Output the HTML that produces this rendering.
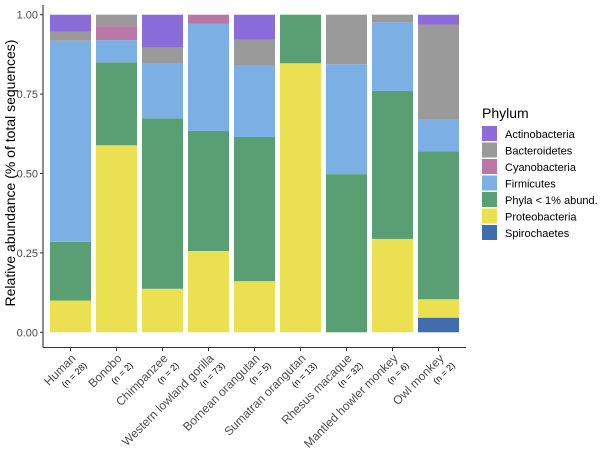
<!DOCTYPE html>
<html><head><meta charset="utf-8">
<style>
html,body{margin:0;padding:0;background:#fff;}
svg text{font-family:"Liberation Sans",Arial,sans-serif;}
</style></head>
<body>
<svg id="chart" width="600" height="450" viewBox="0 0 600 450" xmlns="http://www.w3.org/2000/svg">
<g id="bars"></g>
<g id="axes"></g>
<g id="legend"></g>
</svg>
<script>
const categories = ["Human","Bonobo","Chimpanzee","Western lowland gorilla","Bornean orangutan","Sumatran orangutan","Rhesus macaque","Mantled howler monkey","Owl monkey"];
const sampleSizes = ["(n = 28)","(n = 2)","(n = 2)","(n = 73)","(n = 5)","(n = 13)","(n = 32)","(n = 6)","(n = 2)"];
const phyla = ["Spirochaetes","Proteobacteria","Phyla < 1% abund.","Firmicutes","Cyanobacteria","Bacteroidetes","Actinobacteria"];
const spirochaetes   = [0,0,0,0,0,0,0,0,0.046];
const proteobacteria = [0.10,0.589,0.137,0.256,0.161,0.847,0,0.294,0.058];
const phylaLow       = [0.185,0.261,0.537,0.378,0.454,0.153,0.498,0.466,0.466];
const firmicutes     = [0.633,0.07,0.174,0.337,0.224,0,0.346,0.216,0.099];
const cyanobacteria  = [0,0.044,0,0.029,0,0,0,0,0];
const bacteroidetes  = [0.028,0.036,0.048,0,0.083,0,0.156,0.024,0.300];
const actinobacteria = [0.054,0,0.104,0,0.078,0,0,0,0.031];
const yTicks = [0,0.25,0.5,0.75,1.0];
const yTickLabels = ["0.00","0.25","0.50","0.75","1.00"];
const legendOrder = ["Actinobacteria","Bacteroidetes","Cyanobacteria","Firmicutes","Phyla < 1% abund.","Proteobacteria","Spirochaetes"];

const series = [spirochaetes,proteobacteria,phylaLow,firmicutes,cyanobacteria,bacteroidetes,actinobacteria];
const colors = {"Actinobacteria":"#8b6dd9","Bacteroidetes":"#9a9a9a","Cyanobacteria":"#b977a5","Firmicutes":"#7cb0e4","Phyla < 1% abund.":"#5a9e74","Proteobacteria":"#eae052","Spirochaetes":"#3f6dad"};

const NS="http://www.w3.org/2000/svg";
const y0=332.3, y1=14.7, axisX=43, step=46, firstC=70.5, bw=41;
function yScale(v){return y0-(y0-y1)*v;}
function xScale(i){return firstC+i*step;}
function mk(tag,attrs,parent){const e=document.createElementNS(NS,tag);for(const k in attrs)e.setAttribute(k,attrs[k]);parent.appendChild(e);return e;}

const gb=document.getElementById('bars');
categories.forEach((c,i)=>{
  let cum=0;
  series.forEach((s,j)=>{
    const v=s[i]; if(!v) {return;}
    const r=mk('rect',{x:xScale(i)-bw/2,y:yScale(cum+v),width:bw,height:yScale(cum)-yScale(cum+v),fill:colors[phyla[j]]},gb);
    
    
    cum+=v;
  });
});

const ga=document.getElementById('axes');
const yl=mk('line',{x1:axisX,y1:5,x2:axisX,y2:347.5,stroke:'#333','stroke-width':1.1},ga);


const xl=mk('line',{x1:axisX,y1:347.5,x2:466,y2:347.5,stroke:'#333','stroke-width':1.1},ga);


yTicks.forEach((t,i)=>{
  mk('line',{x1:axisX-3,x2:axisX,y1:yScale(t),y2:yScale(t),stroke:'#333'},ga);
  const tx=mk('text',{x:axisX-5,y:yScale(t)+4,'text-anchor':'end','font-size':11,fill:'#4d4d4d'},ga);
  tx.textContent=yTickLabels[i];
  
  
});
const yt=mk('text',{x:0,y:0,transform:'translate(15,173) rotate(-90)','text-anchor':'middle','font-size':14,fill:'#000'},ga);
yt.textContent='Relative abundance (% of total sequences)';


categories.forEach((c,i)=>{
  const x=xScale(i);
  mk('line',{x1:x,x2:x,y1:347.5,y2:351,stroke:'#333'},ga);
  const t=mk('text',{x:0,y:0,transform:`translate(${x+6},${359}) rotate(-45)`,'text-anchor':'end','font-size':12,fill:'#4d4d4d'},ga);
  t.textContent=c;
  
  
  const n=mk('text',{x:0,y:0,transform:`translate(${x+17},${366}) rotate(-45)`,'text-anchor':'end','font-size':9,fill:'#000'},ga);
  n.textContent=sampleSizes[i];
  
  
});

const gl=document.getElementById('legend');
const lt=mk('text',{x:482,y:118,'font-size':14,fill:'#000'},gl);
lt.textContent='Phylum';


legendOrder.forEach((p,i)=>{
  const y=126+i*16.5;
  const k=mk('rect',{x:482,y:y,width:15,height:15,fill:colors[p]},gl);
  
  
  const t=mk('text',{x:505,y:y+12,'font-size':11,fill:'#000'},gl);
  t.textContent=p;
  
  
});
</script>
</body></html>
